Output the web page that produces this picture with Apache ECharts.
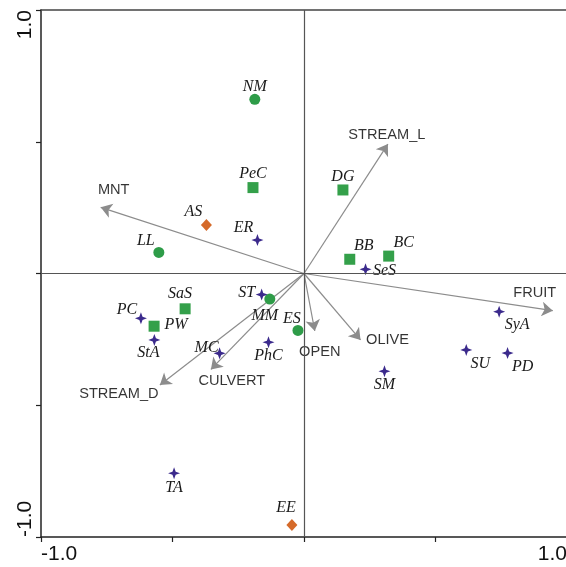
<!DOCTYPE html>
<html>
<head>
<meta charset="utf-8">
<script src="https://cdn.jsdelivr.net/npm/echarts@6/dist/echarts.min.js"></script>
<style>
  html, body { margin: 0; padding: 0; background: #fff; }
  #chart { width: 566px; height: 567px; }
</style>
</head>
<body>
<div id="chart"></div>
<script>
// species scores, grouped by marker
const circleNames = ['NM', 'LL', 'MM', 'ES']
const circleX = [-0.187, -0.552, -0.130, -0.023]
const circleY = [0.661, 0.080, -0.097, -0.216]

const squareNames = ['PeC', 'DG', 'BB', 'BC', 'SaS', 'PW']
const squareX = [-0.194, 0.148, 0.174, 0.322, -0.452, -0.570]
const squareY = [0.326, 0.317, 0.054, 0.066, -0.134, -0.200]

const diamondNames = ['AS', 'EE']
const diamondX = [-0.371, -0.046]
const diamondY = [0.184, -0.954]

const starNames = ['ER', 'SeS', 'ST', 'PC', 'StA', 'MC', 'PhC', 'TA', 'SyA', 'SU', 'PD', 'SM']
const starX = [-0.177, 0.234, -0.161, -0.620, -0.569, -0.321, -0.135, -0.494, 0.742, 0.617, 0.774, 0.306]
const starY = [0.127, 0.016, -0.080, -0.170, -0.252, -0.303, -0.261, -0.758, -0.145, -0.290, -0.302, -0.371]

// environmental variables (arrow tips)
const envNames = ['MNT', 'STREAM_L', 'FRUIT', 'OLIVE', 'OPEN', 'CULVERT', 'STREAM_D']
const envX = [-0.773, 0.319, 0.946, 0.215, 0.041, -0.354, -0.548]
const envY = [0.251, 0.491, -0.141, -0.252, -0.218, -0.364, -0.423]

// axis tick labels that are shown
const tickLabels = [-1, 1]

// label placement next to each mark (pixels)
const labelOffset = {
  NM: [0, -13], PeC: [0, -14], AS: [-13, -13], ER: [-14, -12], LL: [-13, -12],
  DG: [0, -13], BB: [14, -13], BC: [15, -13], SeS: [19, 2], SaS: [-5, -15],
  PW: [22, -1], PC: [-14, -8], StA: [-6, 13], ST: [-15, -2], MM: [-5, 17],
  ES: [-6, -12], MC: [-13, -6], PhC: [0, 14], TA: [0, 15], EE: [-6, -17],
  SyA: [18, 13], SU: [14, 14], PD: [15, 14], SM: [0, 14],
  MNT: [13, -17], STREAM_L: [-1, -9], FRUIT: [-18, -18], OLIVE: [27, 0],
  OPEN: [5, 21], CULVERT: [21, 12], STREAM_D: [-41, 9]
}

const speciesFont = { fontFamily: 'Liberation Serif', fontStyle: 'italic', fontSize: 16, color: '#1a1a1a' }
const envFont = { fontFamily: 'Liberation Sans', fontSize: 14.6, color: '#000' }

const toData = (names, xs, ys, font) => names.map((n, i) => ({
  name: n,
  value: [xs[i], ys[i]],
  label: Object.assign({
    show: true, position: 'inside', formatter: n, offset: labelOffset[n],
    textBorderWidth: 0, textShadowBlur: 0
  }, font)
}))

const starPath = 'path://M0,-6 L1.6,-1.6 L6,0 L1.6,1.6 L0,6 L-1.6,1.6 L-6,0 L-1.6,-1.6 Z'

const axisBase = {
  type: 'value', min: -1, max: 1, interval: 0.5,
  splitLine: { show: false },
  axisLine: { onZero: false, lineStyle: { color: '#222', width: 1.5 } },
  axisTick: { length: 5, lineStyle: { color: '#222', width: 1.2 } }
}

const chart = echarts.init(document.getElementById('chart'))

const option = {
  animation: false,
  grid: {
    left: 41, right: -1, top: 10, bottom: 30,
    outerBoundsMode: 'none', containLabel: false
  },
  xAxis: [
    Object.assign({}, axisBase, {
      axisLabel: {
        fontFamily: 'Liberation Sans', fontSize: 21, color: '#111', margin: 7,
        showMinLabel: true, showMaxLabel: true,
        alignMinLabel: 'left', alignMaxLabel: 'right',
        formatter: v => tickLabels.includes(v) ? v.toFixed(1) : ''
      }
    }),
    // top frame line
    Object.assign({}, axisBase, {
      position: 'top',
      axisLine: { onZero: false, lineStyle: { color: '#444', width: 1.5 } },
      axisTick: { show: false },
      axisLabel: { show: false }
    })
  ],
  yAxis: Object.assign({}, axisBase, {
    axisLabel: {
      fontFamily: 'Liberation Sans', fontSize: 21, color: '#111', margin: 5, rotate: 90,
      showMinLabel: true, showMaxLabel: true,
      alignMinLabel: 'left', alignMaxLabel: 'right',
      formatter: v => tickLabels.includes(v) ? v.toFixed(1) : ''
    }
  }),
  series: [
    {
      // centre cross lines
      type: 'scatter', data: [], silent: true,
      markLine: {
        silent: true, symbol: 'none', label: { show: false },
        lineStyle: { color: '#555', width: 1.2, type: 'solid' },
        data: [{ xAxis: 0 }, { yAxis: 0 }]
      }
    },
    {
      // arrows
      type: 'lines', coordinateSystem: 'cartesian2d', silent: true,
      symbol: ['none', 'arrow'], symbolSize: 11,
      lineStyle: { color: '#8c8c8c', width: 1.2, opacity: 1 },
      data: envNames.map((n, i) => ({ coords: [[0, 0], [envX[i], envY[i]]] }))
    },
    {
      // arrow labels
      type: 'scatter', symbolSize: 0, silent: true,
      itemStyle: { color: '#000' },
      data: toData(envNames, envX, envY, envFont)
    },
    {
      type: 'scatter', symbol: 'circle', symbolSize: 11,
      itemStyle: { color: '#2e9c48', opacity: 1 },
      data: toData(circleNames, circleX, circleY, speciesFont)
    },
    {
      type: 'scatter', symbol: 'rect', symbolSize: 11,
      itemStyle: { color: '#34a04a', opacity: 1 },
      data: toData(squareNames, squareX, squareY, speciesFont)
    },
    {
      type: 'scatter', symbol: 'diamond', symbolSize: [11, 12],
      itemStyle: { color: '#d56a2a', opacity: 1 },
      data: toData(diamondNames, diamondX, diamondY, speciesFont)
    },
    {
      type: 'scatter', symbol: starPath, symbolSize: 12,
      itemStyle: { color: '#3b2a8c', opacity: 1 },
      data: toData(starNames, starX, starY, speciesFont)
    }
  ]
}

chart.setOption(option)
</script>
</body>
</html>
